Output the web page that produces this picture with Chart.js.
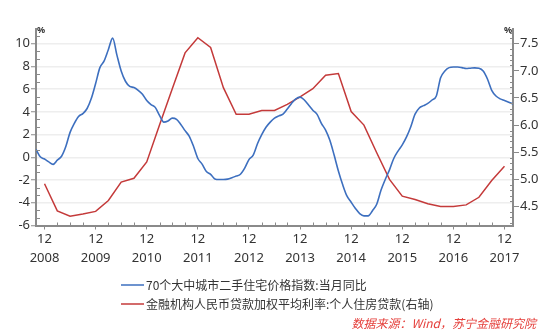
<!DOCTYPE html>
<html>
<head>
<meta charset="utf-8">
<script src="https://cdn.jsdelivr.net/npm/chart.js@4"></script>
<style>
  body { margin: 0; background: #fff; }
  canvas { display: block; }
</style>
</head>
<body>
<canvas id="chart" width="550" height="330"></canvas>
<script>
// month index: 0 = 2008-12
const blueStartMonth = -2; // 2008-10, monthly
const blueLabel = '70个大中城市二手住宅价格指数:当月同比';
const blueValues = [
  0.70, 0.05, -0.15, -0.40, -0.62, -0.25, 0.10, 0.95, 2.20, 3.00, 3.60, 3.85,
  4.30, 5.20, 6.50, 7.90, 8.50, 9.50, 10.50, 9.00, 7.60, 6.70, 6.25, 6.15,
  5.90, 5.55, 5.00, 4.65, 4.40, 3.70, 3.10, 3.20, 3.45, 3.35, 2.90, 2.35,
  1.85, 0.95, -0.10, -0.60, -1.25, -1.49, -1.90, -1.95, -1.95, -1.92, -1.80, -1.65,
  -1.49, -0.95, -0.20, 0.20, 1.20, 2.00, 2.65, 3.10, 3.45, 3.65, 3.80, 4.25,
  4.75, 5.15, 5.30, 5.05, 4.60, 4.15, 3.78, 3.00, 2.40, 1.50, 0.20, -1.20,
  -2.40, -3.40, -3.95, -4.50, -4.95, -5.15, -5.15, -4.70, -4.13, -2.90, -1.95, -1.10,
  -0.10, 0.55, 1.10, 1.80, 2.70, 3.80, 4.35, 4.55, 4.75, 5.05, 5.40, 7.00,
  7.60, 7.90, 7.95, 7.95, 7.90, 7.82, 7.85, 7.88, 7.85, 7.60, 6.90, 5.90,
  5.40, 5.15, 5.00, 4.85, 4.70
];

const redStartMonth = 0; // 2008-12, quarterly
const redLabel = '金融机构人民币贷款加权平均利率:个人住房贷款(右轴)';
const redValues = [
  4.92, 4.42, 4.32, 4.36, 4.41, 4.61, 4.95, 5.02, 5.32, 6.00, 6.67, 7.33,
  7.61, 7.43, 6.69, 6.20, 6.20, 6.27, 6.27, 6.38, 6.52, 6.67, 6.92, 6.95,
  6.25, 6.00, 5.49, 5.00, 4.69, 4.63, 4.55, 4.50, 4.50, 4.53, 4.67, 4.98,
  5.24
];

const tickMonth = '12';
const tickYears = ['2008', '2009', '2010', '2011', '2012', '2013', '2014', '2015', '2016', '2017'];
const leftTicks = [-6, -4, -2, 0, 2, 4, 6, 8, 10];
const rightTicks = [4.5, 5.0, 5.5, 6.0, 6.5, 7.0, 7.5];
const sourceText = '数据来源：Wind，苏宁金融研究院';

const blueColor = '#3d6fbf';
const redColor = '#c43a3a';
const axisColor = '#8a8a8a';
const textColor = '#333333';
const fontFamily = '"Noto Sans", "Noto Sans CJK SC", sans-serif';
const cjkFont = '"Noto Sans CJK SC", "Noto Sans", sans-serif';

const blueData = blueValues.map((v, i) => ({ x: blueStartMonth + i, y: v }));
const redData = redValues.map((v, i) => ({ x: redStartMonth + i * 3, y: v }));

// minor ticks, units and source line
const extrasPlugin = {
    id: 'extras',
    afterDraw(chart) {
        const ctx = chart.ctx;
        const area = chart.chartArea;
        const x = chart.scales.x;
        const y = chart.scales.y;
        const y1 = chart.scales.y1;

        ctx.save();
        ctx.strokeStyle = axisColor;
        ctx.lineWidth = 1;
        ctx.beginPath();
        for (let k = 1; k * 2 / 3 - 6 <= y.max; k++) {
            if (k % 3 === 0) continue;
            const py = Math.round(y.getPixelForValue(-6 + k * 2 / 3)) + 0.5;
            ctx.moveTo(area.left, py);
            ctx.lineTo(area.left + 4, py);
        }
        for (let k = 42; k <= 77; k++) {
            if (k % 5 === 0) continue;
            const py = Math.round(y1.getPixelForValue(k / 10)) + 0.5;
            ctx.moveTo(area.right, py);
            ctx.lineTo(area.right - 3, py);
        }
        for (let m = 3; m <= x.max; m += 3) {
            if (m % 12 === 0) continue;
            const px = Math.round(x.getPixelForValue(m)) + 0.5;
            ctx.moveTo(px, area.bottom);
            ctx.lineTo(px, area.bottom - 3);
        }
        ctx.stroke();

        ctx.fillStyle = textColor;
        ctx.font = 'bold 9px ' + fontFamily;
        ctx.textBaseline = 'middle';
        ctx.textAlign = 'left';
        ctx.fillText('%', area.left + 1, area.top + 1);
        ctx.textAlign = 'right';
        ctx.fillText('%', area.right - 1, area.top + 1);

        // legend
        const items = chart.data.datasets;
        const rowY = [285, 304];
        ctx.font = '12px ' + cjkFont;
        ctx.textAlign = 'left';
        items.forEach((ds, i) => {
            ctx.strokeStyle = ds.borderColor;
            ctx.lineWidth = 1.5;
            ctx.beginPath();
            ctx.moveTo(121, rowY[i]);
            ctx.lineTo(144, rowY[i]);
            ctx.stroke();
            ctx.fillStyle = textColor;
            ctx.fillText(ds.label, 146, rowY[i]);
        });

        ctx.fillStyle = '#e5403c';
        ctx.font = 'italic 12px ' + cjkFont;
        ctx.textAlign = 'right';
        ctx.fillText(sourceText, 536, 323);
        ctx.restore();
    }
};

const ctx = document.getElementById('chart').getContext('2d');
new Chart(ctx, {
    type: 'line',
    data: {
        datasets: [{
            label: blueLabel,
            data: blueData,
            borderColor: blueColor,
            borderWidth: 1.6,
            pointRadius: 0,
            cubicInterpolationMode: 'monotone',
            yAxisID: 'y'
        }, {
            label: redLabel,
            data: redData,
            borderColor: redColor,
            borderWidth: 1.5,
            pointRadius: 0,
            tension: 0,
            yAxisID: 'y1'
        }]
    },
    options: {
        responsive: false,
        devicePixelRatio: 1,
        animation: false,
        layout: { padding: { top: 29, left: 0, right: 0, bottom: 0 } },
        plugins: {
            legend: { display: false },
            tooltip: { enabled: false }
        },
        scales: {
            x: {
                type: 'linear',
                min: -2,
                max: 110,
                afterBuildTicks: (scale) => {
                    scale.ticks = tickYears.map((yr, i) => ({ value: i * 12 }));
                },
                afterFit: (scale) => { scale.height = 104.5; },
                grid: { drawOnChartArea: false, tickLength: 4, tickColor: axisColor },
                border: { color: axisColor, width: 2 },
                ticks: {
                    autoSkip: false,
                    maxRotation: 0,
                    padding: 1,
                    color: textColor,
                    font: { family: fontFamily, size: 13, lineHeight: 1.42 },
                    callback: (v) => [tickMonth, tickYears[v / 12]]
                }
            },
            y: {
                position: 'left',
                min: -6,
                max: 11.3,
                afterBuildTicks: (scale) => {
                    scale.ticks = leftTicks.map(v => ({ value: v }));
                },
                afterFit: (scale) => { scale.width = 36; },
                grid: { color: '#eeeeee', lineWidth: 1.5, tickLength: 5, tickColor: axisColor, tickWidth: 1 },
                border: { color: axisColor, width: 2 },
                ticks: {
                    padding: 1,
                    color: textColor,
                    font: { family: fontFamily, size: 13 }
                }
            },
            y1: {
                position: 'right',
                min: 4.15,
                max: 7.77,
                afterBuildTicks: (scale) => {
                    scale.ticks = rightTicks.map(v => ({ value: v }));
                },
                afterFit: (scale) => { scale.width = 37; },
                grid: { drawOnChartArea: false, tickLength: 6, tickColor: axisColor, tickWidth: 1 },
                border: { color: axisColor, width: 2 },
                ticks: {
                    padding: 1,
                    color: textColor,
                    font: { family: fontFamily, size: 13 },
                    callback: (v) => v.toFixed(1)
                }
            }
        }
    },
    plugins: [extrasPlugin]
});
</script>
</body>
</html>
